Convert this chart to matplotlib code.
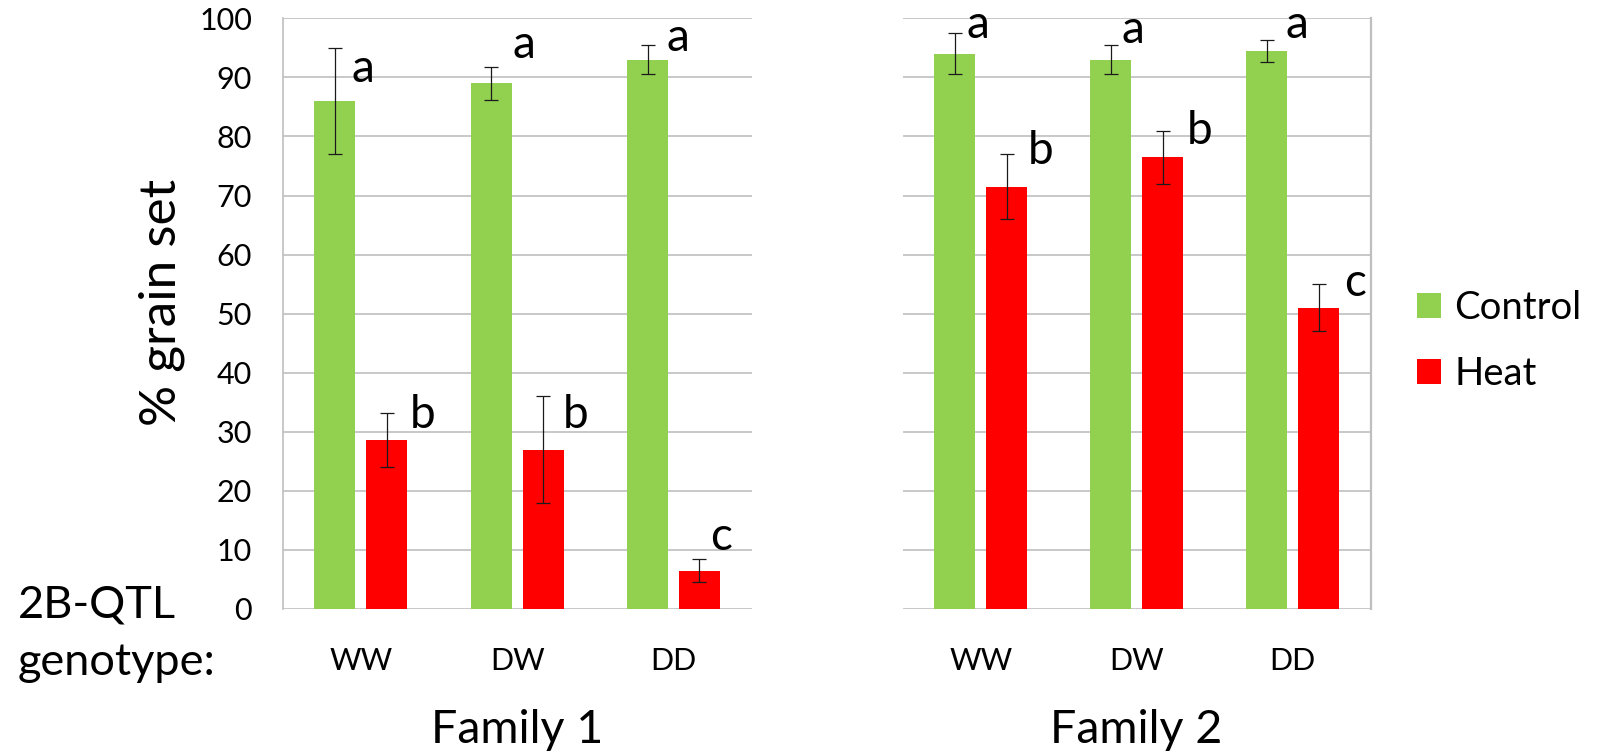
import matplotlib
matplotlib.use("Agg")
import matplotlib.pyplot as plt
from matplotlib.patches import Patch
import numpy as np

plt.rcParams['font.family'] = ['Lato', 'DejaVu Sans']

genotypes = ['WW', 'DW', 'DD']
families = ['Family 1', 'Family 2']
treatments = ['Control', 'Heat']

# mean % grain set and error for each family / treatment
fam1_control = [86.0, 89.0, 93.0]
fam1_control_err = [9.0, 2.8, 2.5]
fam1_heat = [28.6, 27.0, 6.5]
fam1_heat_err = [4.5, 9.0, 2.0]

fam2_control = [94.0, 93.0, 94.5]
fam2_control_err = [3.5, 2.5, 1.9]
fam2_heat = [71.5, 76.5, 51.0]
fam2_heat_err = [5.5, 4.5, 4.0]

# significance letters
fam1_control_sig = ['a', 'a', 'a']
fam1_heat_sig = ['b', 'b', 'c']
fam2_control_sig = ['a', 'a', 'a']
fam2_heat_sig = ['b', 'b', 'c']

# where the letters sit: baseline (in % units) and shift right of the error bar (px)
fam1_control_lab_y = [89.2, 93.2, 94.4]
fam1_heat_lab_y = [30.6, 30.6, 10.0]
fam2_control_lab_y = [96.7, 95.9, 96.7]
fam2_heat_lab_y = [75.3, 78.7, 53.0]
fam1_control_lab_dx = [17, 21, 19]
fam1_heat_lab_dx = [23, 20, 11]
fam2_control_lab_dx = [12, 11, 19]
fam2_heat_lab_dx = [21, 24, 26]

GREEN = '#92D050'
RED = '#FF0000'
GRID = '#BFBFBF'
W = 1601
H = 754
DPI = 100

fig = plt.figure(figsize=(W / DPI, H / DPI), dpi=DPI)

def px(x0, y0, w, h):
	return [x0 / W, 1 - (y0 + h) / H, w / W, h / H]

ax1 = fig.add_axes(px(282.7, 18.3, 469, 590.7))
ax2 = fig.add_axes(px(902.7, 18.3, 468, 590.7))

def draw_panel(ax, control, control_err, heat, heat_err, csig, hsig, cly, hly, cdx, hdx):
	x = np.arange(len(genotypes))
	bw = 0.262
	off = 0.166
	ax.bar(x - off, control, bw, color=GREEN, zorder=3)
	ax.bar(x + off, heat, bw, color=RED, zorder=3)
	ax.errorbar(x - off, control, yerr=control_err, fmt='none', ecolor='#1a1a1a',
		elinewidth=0.9, capsize=5, capthick=0.9, zorder=4)
	ax.errorbar(x + off, heat, yerr=heat_err, fmt='none', ecolor='#1a1a1a',
		elinewidth=0.9, capsize=5, capthick=0.9, zorder=4)
	for xs, sig, ly, dx in [(x - off, csig, cly, cdx), (x + off, hsig, hly, hdx)]:
		for i in range(len(xs)):
			ax.annotate(sig[i], (xs[i], ly[i]), xytext=(dx[i] * 0.72, 0),
				textcoords='offset points', ha='left', va='baseline',
				fontsize=33, color='black', zorder=5)
	ax.set_xlim(-0.5, 2.5)
	ax.set_ylim(0, 100)
	ax.set_yticks(np.arange(0, 101, 10))
	ax.set_xticks(x)
	ax.set_xticklabels(genotypes, fontsize=22)
	ax.grid(axis='y', color=GRID, linewidth=1.2, zorder=0)
	ax.tick_params(axis='both', length=0)
	ax.tick_params(axis='x', pad=27)
	for s in ax.spines.values():
		s.set_visible(False)

draw_panel(ax1, fam1_control, fam1_control_err, fam1_heat, fam1_heat_err,
	fam1_control_sig, fam1_heat_sig, fam1_control_lab_y, fam1_heat_lab_y,
	fam1_control_lab_dx, fam1_heat_lab_dx)
draw_panel(ax2, fam2_control, fam2_control_err, fam2_heat, fam2_heat_err,
	fam2_control_sig, fam2_heat_sig, fam2_control_lab_y, fam2_heat_lab_y,
	fam2_control_lab_dx, fam2_heat_lab_dx)

ax1.tick_params(axis='y', labelsize=22, pad=22)
ax1.spines['left'].set_visible(True)
ax1.spines['left'].set_color(GRID)
ax1.spines['left'].set_linewidth(1.2)
ax2.set_yticklabels([])
ax2.spines['right'].set_visible(True)
ax2.spines['right'].set_color(GRID)
ax2.spines['right'].set_linewidth(1.6)

# y label and captions under each panel
fig.text(162 / W, 1 - 302 / H, '% grain set', rotation=90, ha='center', va='center', fontsize=37)
fig.text(517 / W, 1 - 743 / H, families[0], ha='center', va='baseline', fontsize=33.5)
fig.text(1136.6 / W, 1 - 743 / H, families[1], ha='center', va='baseline', fontsize=33.5)
fig.text(18 / W, 1 - 617 / H, '2B-QTL', ha='left', va='baseline', fontsize=32.5)
fig.text(18 / W, 1 - 675 / H, 'genotype:', ha='left', va='baseline', fontsize=32.5)

handles = [Patch(facecolor=GREEN), Patch(facecolor=RED)]
fig.legend(handles, treatments, loc='center left', bbox_to_anchor=(1417 / W, 1 - 341 / H),
	frameon=False, fontsize=27.5, handlelength=0.63, handleheight=0.63,
	handletextpad=0.35, labelspacing=0.8, borderpad=0, borderaxespad=0)

fig.savefig('out.png', dpi=DPI)
